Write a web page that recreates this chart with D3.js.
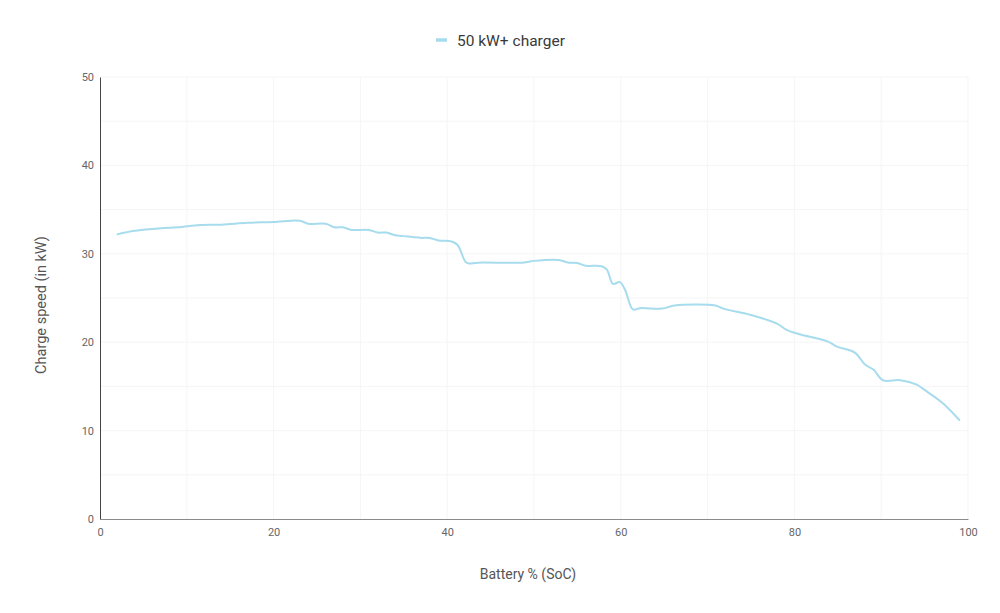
<!DOCTYPE html>
<html>
<head>
<meta charset="utf-8">
<script src="https://cdn.jsdelivr.net/npm/d3@7"></script>
<style>
  html, body { margin: 0; padding: 0; background: #fff; }
  svg { display: block; font-family: Roboto, "Noto Sans", sans-serif; }
</style>
</head>
<body>
<svg id="chart" width="1000" height="613"></svg>
<script>
// Data
const seriesName = "50 kW+ charger";
const socValues = [2, 4, 7, 9, 11.5, 14, 17, 20, 23, 24, 26, 27, 28, 29, 31, 32, 33, 34, 35, 36, 37, 38, 39, 40.5, 41.2, 42.1, 42.5, 43.5, 48.7, 50, 52.8, 54, 55, 56, 57.8, 58.4, 59.1, 59.9, 60.5, 61.4, 62.2, 64.8, 66.2, 70.9, 71.8, 74.9, 78, 79.1, 80.6, 83.8, 84.9, 87, 88.1, 89.1, 90.2, 92.2, 94.1, 95, 97.1, 99];
const speedValues = [32.2, 32.6, 32.9, 33.0, 33.25, 33.3, 33.5, 33.6, 33.75, 33.4, 33.4, 33.0, 33.0, 32.7, 32.7, 32.4, 32.4, 32.1, 32.0, 31.9, 31.8, 31.8, 31.5, 31.4, 31.0, 29.1, 28.9, 29.0, 29.0, 29.2, 29.3, 29.0, 28.95, 28.65, 28.6, 28.2, 26.6, 26.8, 25.9, 23.7, 23.85, 23.8, 24.15, 24.15, 23.8, 23.1, 22.1, 21.4, 20.9, 20.1, 19.5, 18.8, 17.5, 16.9, 15.7, 15.7, 15.2, 14.6, 13.1, 11.2];
const xTicks = [0, 20, 40, 60, 80, 100];
const yTicks = [0, 10, 20, 30, 40, 50];
const xGrid = [0, 10, 20, 30, 40, 50, 60, 70, 80, 90, 100];
const yGrid = [5, 10, 15, 20, 25, 30, 35, 40, 45, 50];
const xTitle = "Battery % (SoC)";
const yTitle = "Charge speed (in kW)";

(function () {
const data = socValues.map((x, i) => ({ x, y: speedValues[i] }));

const svg = d3.select("#chart");
const pl = 100, pr = 968, pt = 77, pb = 519;
const lineColor = "#a6dced";

const x = d3.scaleLinear().domain([0, 100]).range([pl, pr]);
const y = d3.scaleLinear().domain([0, 50]).range([pb, pt]);

// Gridlines
svg.append("g").selectAll("line").data(xGrid.filter(d => d > 0)).join("line")
  .attr("x1", d => x(d)).attr("x2", d => x(d))
  .attr("y1", pt).attr("y2", pb)
  .attr("stroke", "#f5f5f5").attr("stroke-width", 1);
svg.append("g").selectAll("line").data(yGrid).join("line")
  .attr("x1", pl).attr("x2", pr)
  .attr("y1", d => y(d)).attr("y2", d => y(d))
  .attr("stroke", "#f5f5f5").attr("stroke-width", 1);

// Axes
const xAxis = svg.append("g").attr("transform", `translate(0,${pb})`)
  .call(d3.axisBottom(x).tickValues(xTicks).tickSize(0).tickPadding(9));
xAxis.select(".domain").attr("stroke", "#8a8a8a").attr("stroke-width", 1.2);
xAxis.selectAll("text").attr("fill", "#666").style("font-size", "11px").style("font-family", "Roboto, sans-serif");

const yAxis = svg.append("g").attr("transform", `translate(${pl},0)`)
  .call(d3.axisLeft(y).tickValues(yTicks).tickSize(0).tickPadding(6));
yAxis.select(".domain").attr("stroke", "#444").attr("stroke-width", 1);
yAxis.selectAll("text").attr("fill", "#666").style("font-size", "11px").style("font-family", "Roboto, sans-serif");

// Line
svg.append("path").datum(data)
  .attr("fill", "none")
  .attr("stroke", lineColor)
  .attr("stroke-width", 2)
  .attr("stroke-linejoin", "round")
  .attr("stroke-linecap", "round")
  .attr("d", d3.line().x(d => x(d.x)).y(d => y(d.y)).curve(d3.curveCatmullRom.alpha(0.5)));

// Legend
svg.append("line").attr("x1", 436).attr("x2", 447).attr("y1", 40).attr("y2", 40)
  .attr("stroke", lineColor).attr("stroke-width", 3.5);
svg.append("text").attr("x", 457).attr("y", 45.5)
  .attr("fill", "#3a3a3a").style("font-size", "15.5px").text(seriesName);

// Axis titles
svg.append("text").attr("x", 528).attr("y", 579).attr("text-anchor", "middle")
  .attr("fill", "#555").style("font-size", "14px").text(xTitle);
svg.append("text").attr("transform", "translate(46,305) rotate(-90)").attr("text-anchor", "middle")
  .attr("fill", "#555").style("font-size", "14.5px").text(yTitle);
})();
</script>
</body>
</html>
